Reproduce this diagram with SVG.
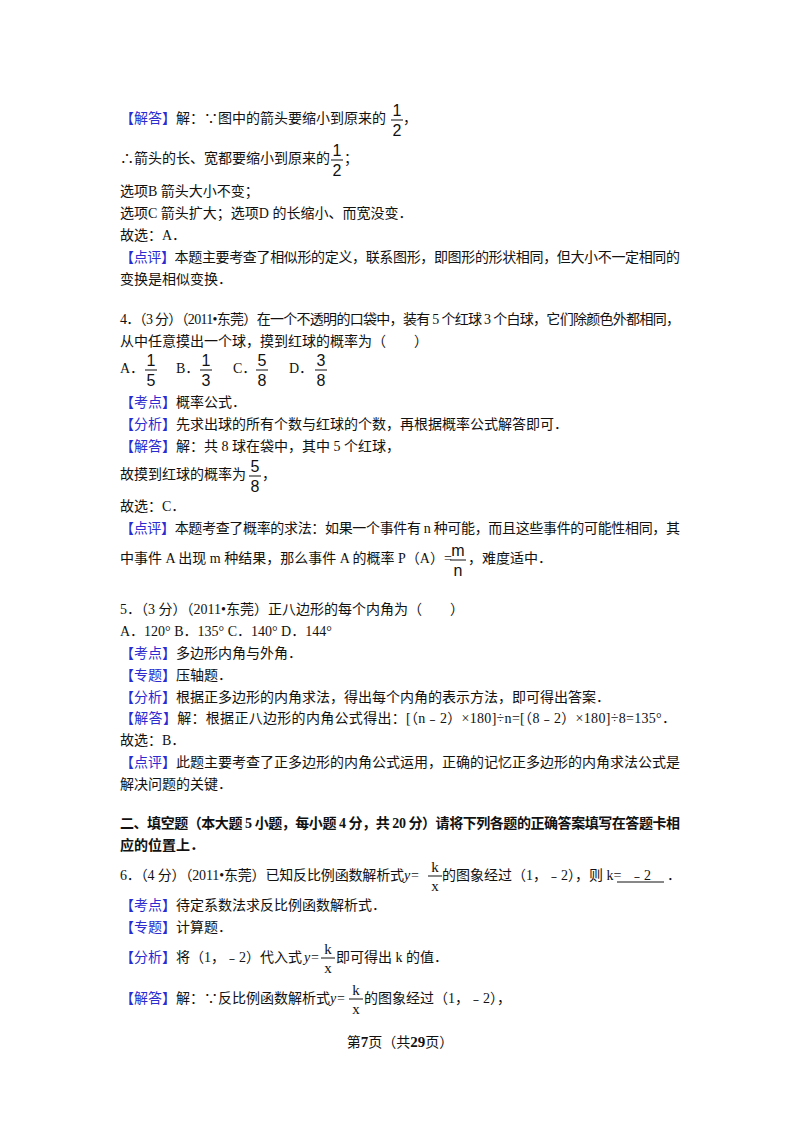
<svg xmlns="http://www.w3.org/2000/svg" width="800" height="1132" viewBox="0 0 800 1132">
<style>
text{font-family:"Liberation Serif","Noto Sans CJK SC",serif;font-size:14px;fill:#111}
.b{fill:#2b2bd0}
.f{font-family:"Liberation Sans",sans-serif;font-size:16px;text-anchor:middle}
.fs{font-family:"Liberation Serif",serif;font-size:15px;text-anchor:middle}
.h{font-weight:bold}
line{stroke:#111;stroke-width:1}
</style>
<rect width="800" height="1132" fill="#fff"/>
<g id="q3">
<text x="120" y="123"><tspan class="b">【解答】</tspan>解：∵图中的箭头要缩小到原来的</text>
<text class="f" x="397" y="116">1</text><line x1="391" y1="120" x2="403" y2="120"/><text class="f" x="397" y="136">2</text>
<text x="403" y="123">，</text>
<text x="120" y="163">∴箭头的长、宽都要缩小到原来的</text>
<text class="f" x="337" y="156">1</text><line x1="331" y1="160" x2="343" y2="160"/><text class="f" x="337" y="176">2</text>
<text x="344" y="163">；</text>
<text x="120" y="196">选项B 箭头大小不变；</text>
<text x="120" y="218">选项C 箭头扩大；选项D 的长缩小、而宽没变．</text>
<text x="120" y="240">故选：A．</text>
<text x="120" y="262" textLength="560" lengthAdjust="spacing"><tspan class="b">【点评】</tspan>本题主要考查了相似形的定义，联系图形，即图形的形状相同，但大小不一定相同的</text>
<text x="120" y="284">变换是相似变换．</text>
</g>
<g id="q4">
<text x="120" y="324" textLength="560" lengthAdjust="spacing">4．（3 分）（2011•东莞）在一个不透明的口袋中，装有 5 个红球 3 个白球，它们除颜色外都相同，</text>
<text x="120" y="346">从中任意摸出一个球，摸到红球的概率为（　　）</text>
<text x="120" y="373">A．</text>
<text class="f" x="151" y="366">1</text><line x1="145" y1="370" x2="157" y2="370"/><text class="f" x="151" y="386">5</text>
<text x="176" y="373">B．</text>
<text class="f" x="206" y="366">1</text><line x1="200" y1="370" x2="212" y2="370"/><text class="f" x="206" y="386">3</text>
<text x="233" y="373">C．</text>
<text class="f" x="262" y="366">5</text><line x1="256" y1="370" x2="268" y2="370"/><text class="f" x="262" y="386">8</text>
<text x="289" y="373">D．</text>
<text class="f" x="321" y="366">3</text><line x1="315" y1="370" x2="327" y2="370"/><text class="f" x="321" y="386">8</text>
<text x="120" y="407"><tspan class="b">【考点】</tspan>概率公式．</text>
<text x="120" y="429"><tspan class="b">【分析】</tspan>先求出球的所有个数与红球的个数，再根据概率公式解答即可．</text>
<text x="120" y="451"><tspan class="b">【解答】</tspan>解：共 8 球在袋中，其中 5 个红球，</text>
<text x="120" y="479">故摸到红球的概率为</text>
<text class="f" x="255" y="472">5</text><line x1="249" y1="476" x2="261" y2="476"/><text class="f" x="255" y="492">8</text>
<text x="262" y="479">，</text>
<text x="120" y="511">故选：C．</text>
<text x="120" y="533" textLength="560" lengthAdjust="spacing"><tspan class="b">【点评】</tspan>本题考查了概率的求法：如果一个事件有 n 种可能，而且这些事件的可能性相同，其</text>
<text x="120" y="563">中事件 A 出现 m 种结果，那么事件 A 的概率 P（A）=</text>
<text class="f" x="458" y="556">m</text><line x1="450" y1="560" x2="466" y2="560"/><text class="f" x="458" y="576">n</text>
<text x="468" y="563">，难度适中．</text>
</g>
<g id="q5">
<text x="120" y="614">5．（3 分）（2011•东莞）正八边形的每个内角为（　　）</text>
<text x="120" y="636">A．120° B．135° C．140° D．144°</text>
<text x="120" y="658"><tspan class="b">【考点】</tspan>多边形内角与外角．</text>
<text x="120" y="680"><tspan class="b">【专题】</tspan>压轴题．</text>
<text x="120" y="702"><tspan class="b">【分析】</tspan>根据正多边形的内角求法，得出每个内角的表示方法，即可得出答案．</text>
<text x="120" y="723" textLength="556" lengthAdjust="spacing"><tspan class="b">【解答】</tspan>解：根据正八边形的内角公式得出：[（n﹣2）×180]÷n=[（8﹣2）×180]÷8=135°．</text>
<text x="120" y="745">故选：B．</text>
<text x="120" y="767" textLength="560" lengthAdjust="spacing"><tspan class="b">【点评】</tspan>此题主要考查了正多边形的内角公式运用，正确的记忆正多边形的内角求法公式是</text>
<text x="120" y="789">解决问题的关键．</text>
</g>
<g id="sec2">
<text class="h" x="120" y="828" textLength="560" lengthAdjust="spacing">二、填空题（本大题 5 小题，每小题 4 分，共 20 分）请将下列各题的正确答案填写在答题卡相</text>
<text class="h" x="120" y="850">应的位置上．</text>
</g>
<g id="q6">
<text x="120" y="880" textLength="284" lengthAdjust="spacing">6．（4 分）（2011•东莞）已知反比例函数解析式</text>
<text x="404" y="880" font-style="italic">y</text><text x="411" y="880">=</text>
<text class="fs" x="435" y="872">k</text><line x1="428" y1="876" x2="442" y2="876"/><text class="fs" x="435" y="891">x</text>
<text x="442" y="880">的图象经过（1，﹣2），则 k=</text>
<text x="630" y="880">﹣2</text><line x1="617" y1="882" x2="664" y2="882"/>
<text x="667" y="880">．</text>
<text x="120" y="910"><tspan class="b">【考点】</tspan>待定系数法求反比例函数解析式．</text>
<text x="120" y="932"><tspan class="b">【专题】</tspan>计算题．</text>
<text x="120" y="962"><tspan class="b">【分析】</tspan>将（1，﹣2）代入式</text>
<text x="304" y="962" font-style="italic">y</text><text x="311" y="962">=</text>
<text class="fs" x="328" y="954">k</text><line x1="321" y1="958" x2="335" y2="958"/><text class="fs" x="328" y="973">x</text>
<text x="336" y="962">即可得出 k 的值．</text>
<text x="120" y="1003"><tspan class="b">【解答】</tspan>解：∵反比例函数解析式</text>
<text x="330" y="1003" font-style="italic">y</text><text x="337" y="1003">=</text>
<text class="fs" x="356" y="995">k</text><line x1="349" y1="999" x2="363" y2="999"/><text class="fs" x="356" y="1014">x</text>
<text x="364" y="1003">的图象经过（1，﹣2），</text>
</g>
<g id="footer">
<text x="400" y="1047" text-anchor="middle" font-size="13">第<tspan class="h" font-size="15">7</tspan>页（共<tspan class="h" font-size="15">29</tspan>页）</text>
</g>
</svg>
